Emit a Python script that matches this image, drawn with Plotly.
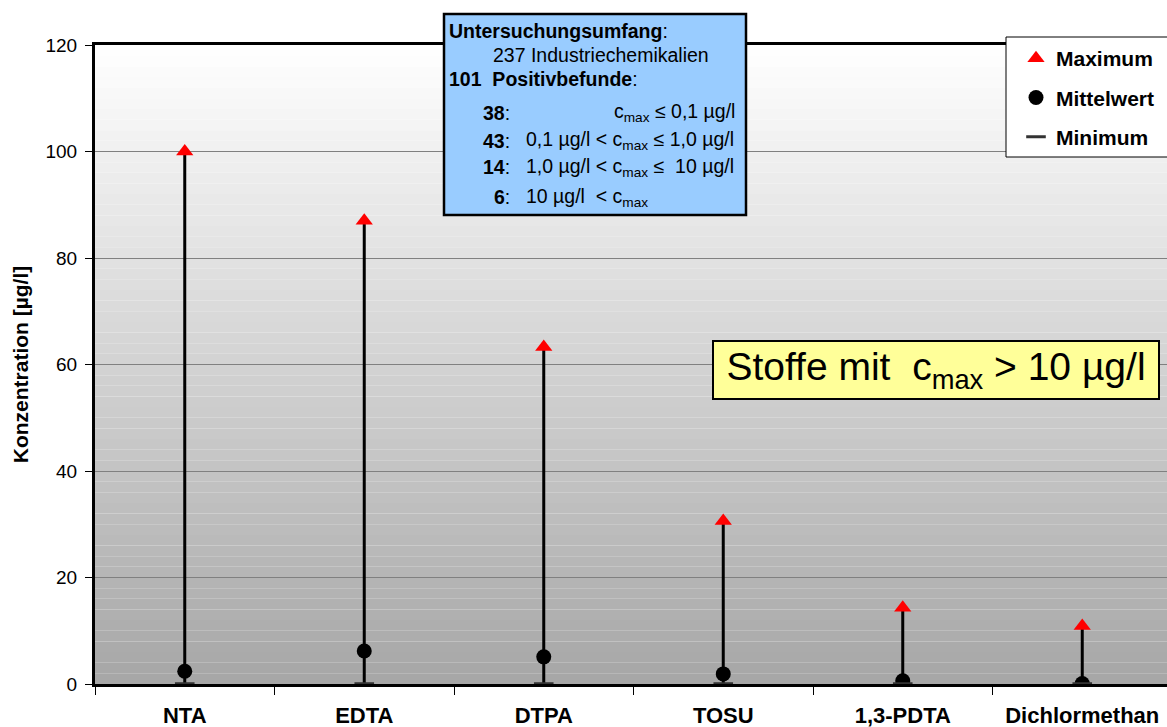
import plotly.graph_objects as go

categories = ["NTA", "EDTA", "DTPA", "TOSU", "1,3-PDTA", "Dichlormethan"]
maximum = [100, 87, 63.3, 30.6, 14.3, 10.9]
mittelwert = [2.4, 6.2, 5.1, 1.9, 0.6, 0.1]
minimum = [0.05, 0.05, 0.05, 0.05, 0.05, 0.05]
y_ticks = [0, 20, 40, 60, 80, 100, 120]

FONT = "Liberation Sans, Arial, sans-serif"
W, H = 1167, 727
L, R, T, B = 95, 0, 45, 43
PW, PH = W - L - R, H - T - B

def px(x):
    return (x - L) / PW

def py(y):
    return (H - B - y) / PH

fig = go.Figure()

# stems from minimum to maximum
sx, sy = [], []
for c, lo, hi in zip(categories, minimum, maximum):
    sx += [c, c, None]
    sy += [lo, hi, None]
fig.add_trace(go.Scatter(x=sx, y=sy, mode="lines", line=dict(color="black", width=3),
                         showlegend=False, hoverinfo="skip"))

fig.add_trace(go.Scatter(x=categories, y=maximum, mode="markers", name="Maximum",
                         marker=dict(symbol="triangle-up", color="#ff0000", size=15),
                         legendgroup="a"))
fig.add_trace(go.Scatter(x=categories, y=mittelwert, mode="markers", name="Mittelwert",
                         marker=dict(symbol="circle", color="black", size=15),
                         legendgroup="b"))
fig.add_trace(go.Scatter(x=categories, y=minimum, mode="markers", name="Minimum",
                         marker=dict(symbol="line-ew", color="black", size=14,
                                     line=dict(color="#333333", width=3)),
                         legendgroup="c"))

# gradient background
shapes = []
n = 60
top = (255, 255, 255)
bot = (166, 166, 166)
for i in range(n):
    f = (i + 0.5) / n
    col = tuple(round(bot[k] + (top[k] - bot[k]) * f) for k in range(3))
    shapes.append(dict(type="rect", xref="paper", yref="y", x0=0, x1=1,
                       y0=120 * i / n, y1=120 * (i + 1) / n, layer="below",
                       line=dict(width=0), fillcolor="rgb(%d,%d,%d)" % col))

# info box
shapes.append(dict(type="rect", xref="paper", yref="paper",
                   x0=px(444), x1=px(746), y0=py(215), y1=py(14),
                   fillcolor="#99ccff", line=dict(color="black", width=2.5)))
# legend frame
shapes.append(dict(type="rect", xref="paper", yref="paper",
                   x0=px(1006), x1=px(1180), y0=py(157), y1=py(37),
                   fillcolor="white", line=dict(color="black", width=1)))

annotations = []
def ann(text, x, y, anchor="left", size=19.5):
    annotations.append(dict(text=text, xref="paper", yref="paper", x=px(x), y=py(y),
                            xanchor=anchor, yanchor="middle", showarrow=False,
                            font=dict(family=FONT, size=size, color="black")))

ann("<b>Untersuchungsumfang</b>:", 447, 31)
ann("237 Industriechemikalien", 491, 55)
ann("<b>101  Positivbefunde</b>:", 447, 79)
ann("<b>38</b>:", 512, 113, "right")
ann("<b>43</b>:", 512, 141, "right")
ann("<b>14</b>:", 512, 167, "right")
ann("<b>6</b>:", 512, 197, "right")
ann("c<sub>max</sub> ≤ 0,1 µg/l", 737, 113, "right")
ann("0,1 µg/l &lt; c<sub>max</sub> ≤ 1,0 µg/l", 524, 141)
ann("1,0 µg/l &lt; c<sub>max</sub> ≤  10 µg/l", 524, 167)
ann("10 µg/l  &lt; c<sub>max</sub>", 524, 197)

annotations.append(dict(text="Stoffe mit  c<sub>max</sub> &gt; 10 µg/l", xref="paper", yref="paper",
                        x=px(936), y=py(370), xanchor="center", yanchor="middle",
                        showarrow=False, bgcolor="#ffff99", bordercolor="black",
                        borderwidth=2, width=442, height=54,
                        font=dict(family=FONT, size=39, color="black")))

fig.update_layout(
    width=W, height=H,
    margin=dict(l=L, r=R, t=T, b=B, pad=0),
    paper_bgcolor="white", plot_bgcolor="white",
    font=dict(family=FONT, color="black"),
    shapes=shapes, annotations=annotations,
    showlegend=True,
    legend=dict(x=px(1016), y=py(38), xanchor="left", yanchor="top",
                bgcolor="rgba(0,0,0,0)", borderwidth=0,
                font=dict(family=FONT, size=21, color="black", weight="bold"),
                traceorder="grouped", tracegroupgap=9, itemwidth=30),
    xaxis=dict(type="category", range=[-0.5, -0.5 + PW / 179.5], showgrid=False,
               showline=True, linecolor="black", linewidth=3, mirror=True,
               ticks="outside", tickson="boundaries", ticklen=8, tickcolor="black",
               tickfont=dict(family=FONT, size=22, color="black", weight="bold"),
               ticklabelstandoff=10, zeroline=False),
    yaxis=dict(range=[0, 120], tickvals=y_ticks, showgrid=True, gridcolor="#808080",
               gridwidth=1, showline=True, linecolor="black", linewidth=3,
               ticks="outside", ticklen=7, tickcolor="black", ticklabelstandoff=4,
               tickfont=dict(family=FONT, size=19, color="black"), zeroline=False,
               title=dict(text="<b>Konzentration [µg/l]</b>", standoff=12,
                          font=dict(family=FONT, size=21, color="black"))),
)

fig.write_html("out.html")
